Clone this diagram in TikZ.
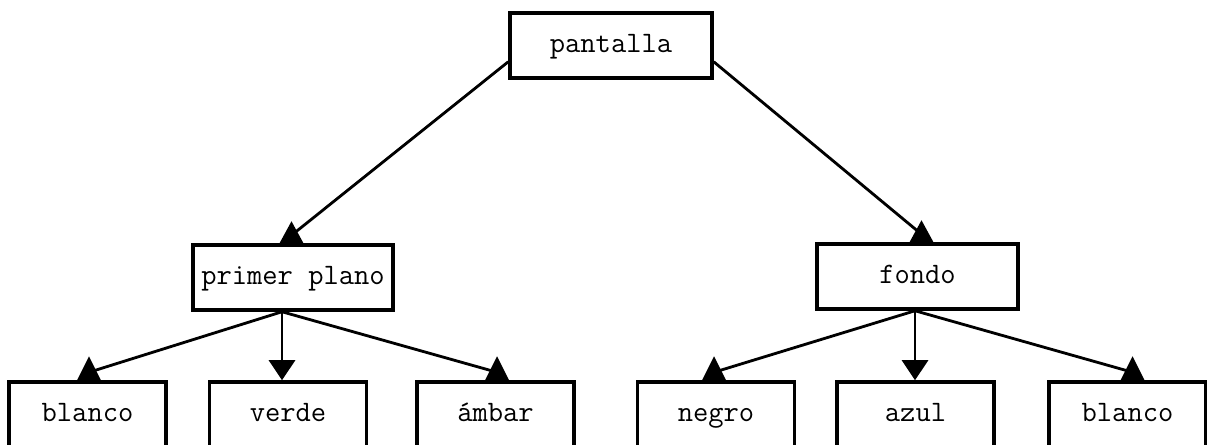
\documentclass[tikz,border=0pt]{standalone}
\usepackage{fontspec}
\usetikzlibrary{arrows.meta}
\tikzset{%
  box/.style  = {shape=rectangle, draw, line width=2pt,%
                 minimum height=1.3cm, inner sep=0pt,%
                 text height=0.85em, text depth=0.1em,%
                 font=\ttfamily\fontsize{16.9}{18}\selectfont},%
  leaf/.style = {box, minimum width=3.14cm, minimum height=1.32cm},%
  edge/.style = {line width=1.6pt},%
  tip/.style  = {-{Triangle[width=14.8pt,length=11.4pt]}}%
}
\begin{document}
\begin{tikzpicture}[x=0.02cm,y=-0.02cm]
	\clip (0,0) rectangle (1207,444);
	\node[box, minimum width=4.04cm] (pantalla) at (611,45.5) {pantalla};
	\node[box, minimum width=4cm] (plano) at (293,277.5) {primer plano};
	\node[box, minimum width=4.02cm] (fondo) at (917.5,276.5) {fondo};
	\node[leaf] (blanco1) at (87.5,415) {blanco};
	\node[leaf] (verde) at (288,415) {verde};
	\node[leaf] (ambar) at (495.5,415) {ámbar};
	\node[leaf] (negro) at (716,415) {negro};
	\node[leaf] (azul) at (915.5,415) {azul};
	\node[leaf] (blanco2) at (1127.5,415) {blanco};
	\coordinate (plano-out) at ([xshift=-0.22cm]plano.south);
	\coordinate (fondo-out) at ([xshift=-0.05cm]fondo.south);
		\draw[edge] (pantalla.189) -- ([shift={(-1.5,-8)}]plano.north);
		\draw[edge] (pantalla.-9) -- ([shift={(4,-8)}]fondo.north);
		\draw[edge] (plano-out) -- ([shift={(1.5,-8)}]blanco1.north);
		\draw[edge,tip] (plano-out) -- (plano-out |- verde.north);
		\draw[edge] (plano-out) -- ([shift={(1.5,-8)}]ambar.north);
		\draw[edge] (fondo-out) -- ([shift={(-2,-8)}]negro.north);
		\draw[edge,tip] (fondo-out) -- (fondo-out |- azul.north);
		\draw[edge] (fondo-out) -- ([shift={(5,-8)}]blanco2.north);
	\fill (plano.north) ++(-13.5,0) -- ++(24,0) -- ++(-12,-22) -- cycle;
	\fill (fondo.north) ++(-8,0) -- ++(24,0) -- ++(-12,-22) -- cycle;
	\fill (blanco1.north) ++(-10.5,0) -- ++(24,0) -- ++(-12,-24) -- cycle;
	\fill (ambar.north) ++(-10.5,0) -- ++(24,0) -- ++(-12,-24) -- cycle;
	\fill (negro.north) ++(-14,0) -- ++(24,0) -- ++(-12,-24) -- cycle;
	\fill (blanco2.north) ++(-7,0) -- ++(24,0) -- ++(-12,-24) -- cycle;
\end{tikzpicture}
\end{document}
